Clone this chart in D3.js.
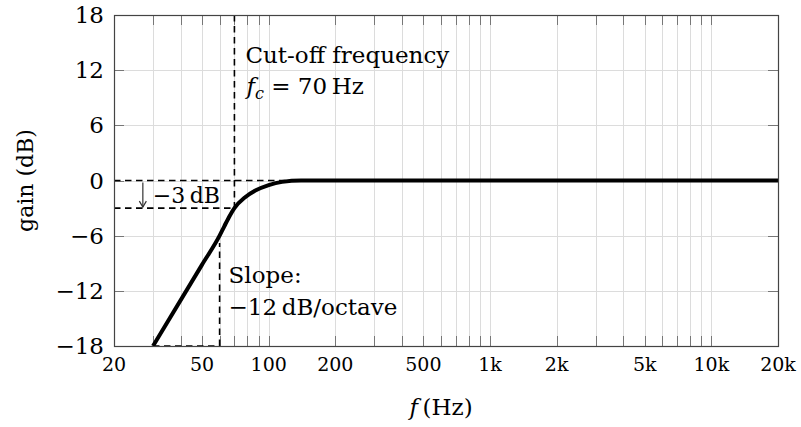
<!DOCTYPE html>
<html>
<head>
  <meta charset="utf-8">
  <title>High-pass filter response</title>
  <script src="https://d3js.org/d3.v7.min.js"></script>
</head>

<style>
  body {
    margin: 0;
    background: #fff;
  }

  text {
    font-family: 'DejaVu Serif', serif;
    fill: #000;
  }

  .grid line {
    stroke: #dcdcdc;
    stroke-width: 1;
    shape-rendering: crispEdges;
  }

  .tick-mark {
    stroke: #777;
    stroke-width: 1;
    shape-rendering: crispEdges;
  }

  .dash {
    fill: none;
    stroke: #000;
    stroke-width: 1.6;
    stroke-dasharray: 6.5, 4.5;
  }
</style>

<body>
  <div class="chart"></div>

  <script>
    // response curve (Hz, dB)
    var freqs = [30, 50, 60, 63, 67, 70, 78, 87, 100, 115, 140, 20000];
    var gains = [-18, -9.15, -6, -4.98, -3.74, -3, -1.85, -1.1, -0.5, -0.15, 0, 0];

    var xTicks = [20, 50, 100, 200, 500, 1000, 2000, 5000, 10000, 20000];
    var xTickLabels = ["20", "50", "100", "200", "500", "1k", "2k", "5k", "10k", "20k"];
    var yTicks = [-18, -12, -6, 0, 6, 12, 18];

    // annotation values
    var cutoffFreq = 70;
    var cutoffGain = -3;
    var flatStartFreq = 140;
    var slopeFreq = 60;
    var slopeTopGain = -6.8;
    var slopeStartFreq = 30;
    var arrowFreq = 27;

    var margin = {top: 15, right: 23, bottom: 81, left: 114};
    var width = 801 - margin.left - margin.right;
    var height = 427 - margin.top - margin.bottom;

    var svg = d3.select('.chart')
      .append('svg')
        .attr('width', 801)
        .attr('height', 427);

    var x = d3.scaleLog().domain([20, 20000]).range([0, width]);
    var y = d3.scaleLinear().domain([-18, 18]).range([height, 0]);

    var g = svg.append("g")
      .attr("transform", "translate(" + margin.left + "," + margin.top + ")");

    // grid
    var gridX = x.ticks().filter(function(d) { return d > 20 && d < 20000; });
    var gridY = yTicks.filter(function(d) { return d > -18 && d < 18; });

    var grid = g.append("g").attr("class", "grid");
    grid.selectAll(".gx")
      .data(gridX)
      .enter().append("line")
        .attr("x1", function(d) { return Math.round(x(d)) + 0.5; })
        .attr("x2", function(d) { return Math.round(x(d)) + 0.5; })
        .attr("y1", 0)
        .attr("y2", height);
    grid.selectAll(".gy")
      .data(gridY)
      .enter().append("line")
        .attr("x1", 0)
        .attr("x2", width)
        .attr("y1", function(d) { return Math.round(y(d)) + 0.5; })
        .attr("y2", function(d) { return Math.round(y(d)) + 0.5; });

    // tick marks inside the frame (top/bottom, left/right)
    var tickLen = 10;
    gridX.forEach(function(d) {
      var px = Math.round(x(d)) + 0.5;
      g.append("line").attr("class", "tick-mark")
        .attr("x1", px).attr("x2", px).attr("y1", 0).attr("y2", tickLen);
      g.append("line").attr("class", "tick-mark")
        .attr("x1", px).attr("x2", px).attr("y1", height).attr("y2", height - tickLen);
    });
    gridY.forEach(function(d) {
      var py = Math.round(y(d)) + 0.5;
      g.append("line").attr("class", "tick-mark")
        .attr("x1", 0).attr("x2", tickLen).attr("y1", py).attr("y2", py);
      g.append("line").attr("class", "tick-mark")
        .attr("x1", width).attr("x2", width - tickLen).attr("y1", py).attr("y2", py);
    });

    // dashed guides
    var dashed = d3.line()
      .x(function(d) { return x(d[0]); })
      .y(function(d) { return y(d[1]); });

    var guides = [
      [[cutoffFreq, 18], [cutoffFreq, cutoffGain]],
      [[20, 0], [flatStartFreq, 0]],
      [[20, cutoffGain], [cutoffFreq, cutoffGain]],
      [[slopeFreq, -18], [slopeFreq, slopeTopGain]],
      [[slopeStartFreq, -18], [slopeFreq, -18]]
    ];

    g.selectAll(".dash")
      .data(guides)
      .enter().append("path")
        .attr("class", "dash")
        .attr("d", dashed);

    // -3 dB arrow
    var ax = x(arrowFreq);
    g.append("line")
      .attr("x1", ax).attr("x2", ax)
      .attr("y1", y(0) + 2).attr("y2", y(cutoffGain) - 1)
      .attr("stroke", "#333").attr("stroke-width", 1.2);
    g.append("path")
      .attr("d", "M" + (ax - 3.5) + "," + (y(cutoffGain) - 7) +
                 " L" + ax + "," + (y(cutoffGain) - 1) +
                 " L" + (ax + 3.5) + "," + (y(cutoffGain) - 7))
      .attr("fill", "none").attr("stroke", "#333").attr("stroke-width", 1.2);

    // response curve
    var line = d3.line()
      .x(function(d, i) { return x(freqs[i]); })
      .y(function(d) { return y(d); })
      .curve(d3.curveMonotoneX);

    g.append("path")
      .datum(gains)
      .attr("fill", "none")
      .attr("stroke", "#000")
      .attr("stroke-width", 4)
      .attr("stroke-linejoin", "round")
      .attr("d", line);

    // frame
    g.append("rect")
      .attr("x", 0.5).attr("y", 0.5)
      .attr("width", width).attr("height", height)
      .attr("fill", "none")
      .attr("stroke", "#444")
      .attr("stroke-width", 1.2);

    // axis labels
    g.selectAll(".ylab")
      .data(yTicks)
      .enter().append("text")
        .attr("x", -10)
        .attr("y", function(d) { return y(d) + 8; })
        .style("font-size", "23px")
        .style("text-anchor", "end")
        .text(function(d) { return d < 0 ? "\u2212" + Math.abs(d) : d; });

    g.selectAll(".xlab")
      .data(xTicks)
      .enter().append("text")
        .attr("x", function(d) { return x(d); })
        .attr("y", height + 25)
        .style("font-size", "19px")
        .style("text-anchor", "middle")
        .text(function(d, i) { return xTickLabels[i]; });

    // annotations
    function label(px, py, size) {
      return g.append("text")
        .attr("x", px).attr("y", py)
        .style("font-size", size + "px");
    }

    label(x(cutoffFreq) + 11, 48, 23).text("Cut-off frequency");
    var fc = label(x(cutoffFreq) + 12, 79, 23);
    fc.append("tspan").style("font-style", "italic").text("f");
    fc.append("tspan").style("font-style", "italic").style("font-size", "16px")
      .attr("dy", 5).text("c");
    fc.append("tspan").attr("dy", -5).text(" = 70\u2009Hz");

    label(ax + 10, y(cutoffGain) - 5, 22).text("\u22123\u2009dB");

    label(x(slopeFreq) + 9, 268, 23).text("Slope:");
    label(x(slopeFreq) + 9, 300, 23).text("\u221212\u2009dB/octave");

    var xl = svg.append("text")
      .attr("x", 441)
      .attr("y", 415)
      .style("font-size", "23px")
      .style("text-anchor", "middle");
    xl.append("tspan").style("font-style", "italic").text("f");
    xl.append("tspan").text("\u2009(Hz)");

    svg.append("text")
      .attr("transform", "translate(33," + (margin.top + y(0)) + ") rotate(-90)")
      .style("font-size", "22px")
      .style("text-anchor", "middle")
      .text("gain (dB)");
  </script>
</body>
</html>
